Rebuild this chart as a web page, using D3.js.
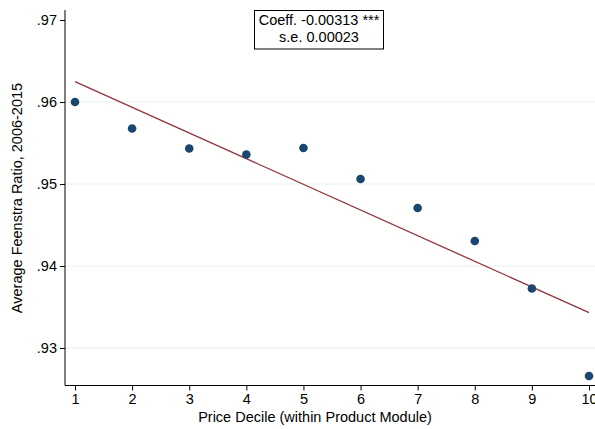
<!DOCTYPE html>
<html><head><meta charset="utf-8">
<script src="https://cdn.jsdelivr.net/npm/d3@7"></script>
<style>body{margin:0;background:#fff}svg{display:block}text{font-family:"Liberation Sans",Arial,sans-serif}</style>
</head><body><svg id="c" width="595" height="429"></svg>
<script>
const deciles = [1,2,3,4,5,6,7,8,9,10];
const ratios = [0.9600,0.95677,0.95433,0.95360,0.95439,0.95061,0.94707,0.94305,0.93726,0.92659];
const fitIntercept = [0.96561];
const fitSlope = [-0.00313];
const yTicks = [0.93,0.94,0.95,0.96,0.97];
const yTickLabels = [".93",".94",".95",".96",".97"];
const xTicks = [1,2,3,4,5,6,7,8,9,10];
const boxLines = ["Coeff. -0.00313 ***","s.e. 0.00023"];

const svg = d3.select("#c");
const L=65, R=600, T=10, B=385.5;
const x = d3.scaleLinear().domain([1,10]).range([75,589]);
const y = d3.scaleLinear().domain([0.93,0.97]).range([348,20]);

// grid
svg.append("g").selectAll("line").data(yTicks.filter(d=>d<0.97)).join("line")
  .attr("x1",L).attr("x2",R).attr("y1",d=>y(d)).attr("y2",d=>y(d))
  .attr("stroke","#e6eff1").attr("stroke-width",1.2);

// y axis
const ya = svg.append("g").attr("transform",`translate(${L},0)`)
  .call(d3.axisLeft(y).tickValues(yTicks).tickFormat((d,i)=>yTickLabels[i]).tickSize(5).tickPadding(3));
ya.select(".domain").remove();
ya.append("line").attr("x1",0).attr("x2",0).attr("y1",T).attr("y2",B).attr("stroke","#000");
ya.selectAll(".tick line").attr("stroke","#000");
ya.selectAll("text").attr("font-size",14.5).attr("fill","#000").attr("font-family","Liberation Sans, Arial, sans-serif");

// x axis
const xa = svg.append("g").attr("transform",`translate(0,${B})`)
  .call(d3.axisBottom(x).tickValues(xTicks).tickFormat(d3.format("d")).tickSize(5).tickPadding(3));
xa.select(".domain").remove();
xa.append("line").attr("x1",L).attr("x2",R).attr("y1",0).attr("y2",0).attr("stroke","#000");
xa.selectAll(".tick line").attr("stroke","#000");
xa.selectAll("text").attr("font-size",14.5).attr("fill","#000").attr("font-family","Liberation Sans, Arial, sans-serif");

// fit line
const fy = d => fitIntercept[0] + fitSlope[0]*d;
svg.append("line").attr("x1",x(1)).attr("y1",y(fy(1))).attr("x2",x(10)).attr("y2",y(fy(10)))
  .attr("stroke","#90353b").attr("stroke-width",1.3);

// points
svg.append("g").selectAll("circle").data(deciles).join("circle")
  .attr("cx",d=>x(d)).attr("cy",(d,i)=>y(ratios[i])).attr("r",4.3).attr("fill","#1a476f");

// titles
svg.append("text").attr("x",315).attr("y",422).attr("text-anchor","middle").attr("font-size",14.5)
  .text("Price Decile (within Product Module)");
svg.append("text").attr("transform","translate(22,198) rotate(-90)").attr("text-anchor","middle").attr("font-size",14.5)
  .text("Average Feenstra Ratio, 2006-2015");

// box
svg.append("rect").attr("x",254.5).attr("y",10.5).attr("width",129).attr("height",38.5)
  .attr("fill","#fff").attr("stroke","#000").attr("stroke-width",1);
svg.append("g").selectAll("text").data(boxLines).join("text")
  .attr("x",319).attr("y",(d,i)=>25+i*17).attr("text-anchor","middle").attr("font-size",14.5).text(d=>d);
</script></body></html>
